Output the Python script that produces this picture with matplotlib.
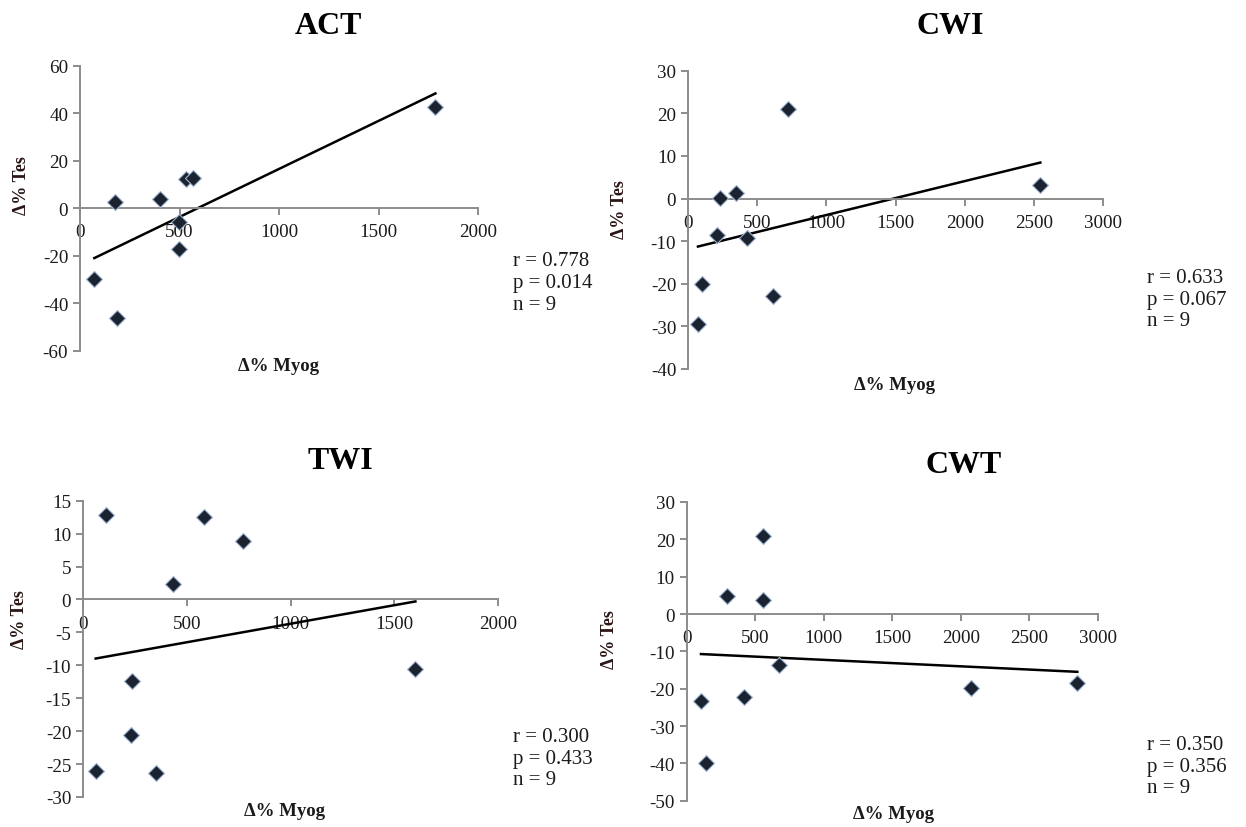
import numpy as np
import matplotlib
matplotlib.use("Agg")
import matplotlib.pyplot as plt

plt.rcParams['font.family'] = ['Liberation Serif', 'DejaVu Serif']
plt.rcParams['axes.unicode_minus'] = False

# ---- data: % change in myoglobin (x) vs % change in testosterone (y) ----
act_myog = [72, 176, 187, 402, 497, 497, 535, 569, 1786]
act_tes = [-29.6, 2.7, -46.2, 3.8, -5.6, -17.3, 12.2, 12.9, 42.8]

cwi_myog = [72, 104, 212, 229, 349, 429, 614, 723, 2547]
cwi_tes = [-29.5, -20.1, -8.6, 0.2, 1.3, -9.2, -22.8, 21.1, 3.1]

twi_myog = [61, 112, 230, 236, 350, 434, 582, 771, 1602]
twi_tes = [-26.1, 12.9, -20.6, -12.4, -26.4, 2.4, 12.6, 8.9, -10.5]

cwt_myog = [104, 138, 296, 418, 559, 559, 675, 2077, 2849]
cwt_tes = [-23.4, -40.0, 4.7, -22.3, 3.8, 20.8, -13.6, -19.8, -18.4]

titles = ["ACT", "CWI", "TWI", "CWT"]
stats = [("0.778", "0.014"), ("0.633", "0.067"), ("0.300", "0.433"), ("0.350", "0.356")]
n_subjects = [9, 9, 9, 9]

x_limits = [(0, 2000), (0, 3000), (0, 2000), (0, 3000)]
y_limits = [(-60, 60), (-40, 30), (-30, 15), (-50, 30)]
y_steps = [20, 10, 5, 10]

W, H = 1246, 828
fig = plt.figure(figsize=(W / 100, H / 100), dpi=100)


def px_rect(left, top, right, bottom):
    return [left / W, 1 - bottom / H, (right - left) / W, (bottom - top) / H]


rects = [px_rect(80, 66.7, 478, 351.7), px_rect(688, 71.7, 1103, 370),
         px_rect(83, 501.7, 498, 798), px_rect(686.7, 503, 1098, 801.7)]
title_pos = [(328, 27), (950, 27), (340, 462), (964, 466)]
xlabel_pos = [(278, 367), (895, 385), (285, 812), (893, 815)]
ylabel_pos = [(22, 186), (620, 210), (20, 620), (610, 640)]
stats_pos = [(513, 262), (1147, 279), (513, 738), (1147, 746)]

datasets = [(act_myog, act_tes), (cwi_myog, cwi_tes),
            (twi_myog, twi_tes), (cwt_myog, cwt_tes)]

axis_gray = "#8c8c8c"
text_col = "#1a1a1a"

for i, (xs, ys) in enumerate(datasets):
    ax = fig.add_axes(rects[i])
    xs = np.asarray(xs, float)
    ys = np.asarray(ys, float)

    ax.scatter(xs, ys, marker="D", s=66, color="#1b2230",
               edgecolors="#9fb4d0", linewidths=0.8, zorder=3)

    # least-squares trendline across the observed range
    slope, intercept = np.polyfit(xs, ys, 1)
    xl = np.array([xs.min(), xs.max()])
    ax.plot(xl, slope * xl + intercept, color="black", lw=1.8, zorder=2)

    ax.set_xlim(*x_limits[i])
    ax.set_ylim(*y_limits[i])
    ax.set_xticks(np.arange(x_limits[i][0], x_limits[i][1] + 1, 500))
    ax.set_yticks(np.arange(y_limits[i][0], y_limits[i][1] + 1, y_steps[i]))

    for s in ("top", "right"):
        ax.spines[s].set_visible(False)
    ax.spines["left"].set_position(("data", 0))
    ax.spines["bottom"].set_position(("data", 0))
    for s in ("left", "bottom"):
        ax.spines[s].set_color(axis_gray)
        ax.spines[s].set_linewidth(1.4)
    ax.tick_params(axis="both", direction="out", length=5, width=1.4,
                   color=axis_gray, labelsize=13.7, labelcolor=text_col)
    ax.tick_params(axis="x", pad=6)
    ax.patch.set_alpha(0)

    fig.text(title_pos[i][0] / W, 1 - title_pos[i][1] / H, titles[i],
             ha="center", va="center", fontsize=23, fontweight="bold",
             color="black")
    fig.text(xlabel_pos[i][0] / W, 1 - xlabel_pos[i][1] / H, "Δ% Myog",
             ha="center", va="center", fontsize=13.5, fontweight="bold",
             color=text_col)
    fig.text(ylabel_pos[i][0] / W, 1 - ylabel_pos[i][1] / H, "Δ% Tes",
             ha="center", va="center", fontsize=13, fontweight="bold",
             rotation=90, color="#2a1616")
    r_txt, p_txt = stats[i]
    lines = [f"r = {r_txt}", f"p = {p_txt}", f"n = {n_subjects[i]}"]
    for k, line in enumerate(lines):
        fig.text(stats_pos[i][0] / W, 1 - (stats_pos[i][1] + 21.5 * k) / H,
                 line, ha="left", va="center", fontsize=15, color=text_col)

fig.savefig("out.png", dpi=100, facecolor="white")
